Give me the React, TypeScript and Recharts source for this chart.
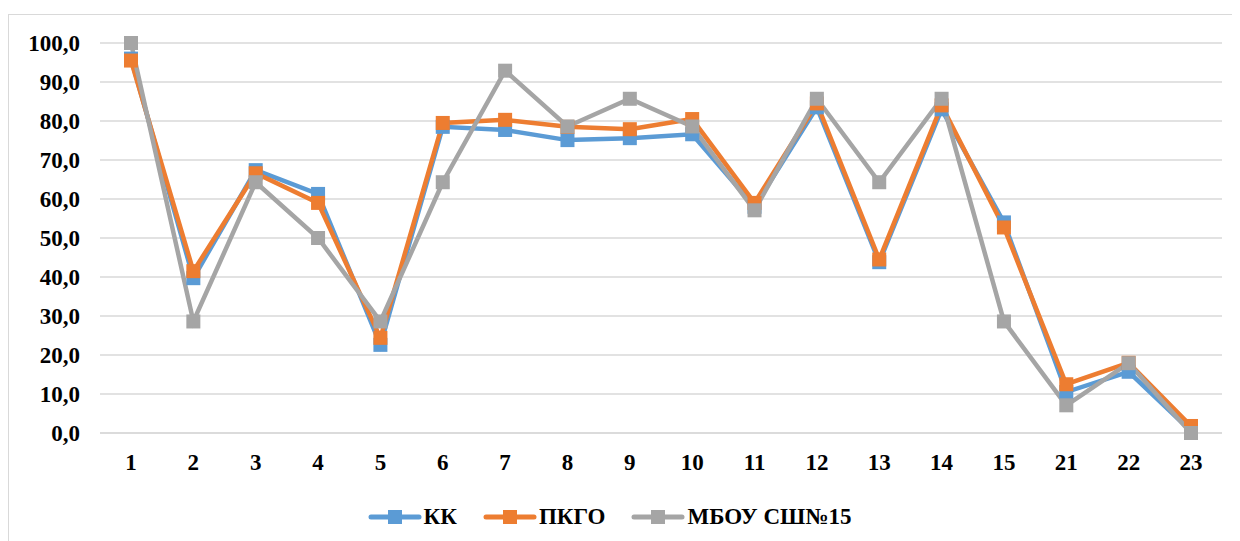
import React from "react";
import { LineChart, Line, XAxis, YAxis, CartesianGrid, Legend } from "recharts";

const categories = ["1", "2", "3", "4", "5", "6", "7", "8", "9", "10", "11", "12", "13", "14", "15", "21", "22", "23"];
const kk = [96.0, 39.7, 67.4, 61.3, 22.6, 78.5, 77.7, 75.1, 75.6, 76.6, 58.0, 83.5, 43.8, 83.0, 54.0, 10.5, 15.7, 0.5];
const pkgo = [95.5, 41.5, 66.6, 59.0, 24.4, 79.5, 80.3, 78.5, 77.9, 80.5, 59.0, 84.5, 44.5, 84.0, 52.7, 12.5, 18.0, 1.8];
const mbou = [100.0, 28.6, 64.3, 50.0, 28.6, 64.3, 92.9, 78.6, 85.7, 78.6, 57.1, 85.7, 64.3, 85.7, 28.6, 7.1, 17.9, 0.0];
const yTicks = [0, 10, 20, 30, 40, 50, 60, 70, 80, 90, 100];

const SERIES = [
  { key: "kk", name: "КК", color: "#5B9BD5" },
  { key: "pkgo", name: "ПКГО", color: "#ED7D31" },
  { key: "mbou", name: "МБОУ СШ№15", color: "#A5A5A5" },
];

const data = categories.map((c, i) => ({ cat: c, kk: kk[i], pkgo: pkgo[i], mbou: mbou[i] }));

const FONT = "'Liberation Serif', 'Times New Roman', serif";
const GRID = "#d9d9d9";

function squareDot(color: string) {
  return (props: any) => {
    const { cx, cy, index } = props;
    if (cx == null || cy == null) return <g key={index} />;
    return <rect key={index} x={cx - 7} y={cy - 7} width={14} height={14} fill={color} />;
  };
}

// custom tick so the font is applied for sure
function AxisTick(props: any) {
  const { x, y, payload, textAnchor, fmt } = props;
  const label = fmt ? fmt(payload.value) : payload.value;
  const isY = textAnchor === "end";
  return (
    <text
      x={x}
      y={y}
      dy={isY ? 8 : 17}
      textAnchor={textAnchor}
      fill="#000"
      style={{ fontFamily: FONT, fontWeight: "bold", fontSize: 23 }}
    >
      {label}
    </text>
  );
}

const fmtY = (v: number) => v.toFixed(1).replace(".", ",");

function LegendContent() {
  return (
    <div
      style={{
        height: 48,
        display: "flex",
        justifyContent: "center",
        alignItems: "center",
        gap: 26,
        paddingRight: 12,
        fontFamily: FONT,
        fontWeight: "bold",
        fontSize: 23,
        color: "#000",
      }}
    >
      {SERIES.map((s) => (
        <div key={s.key} style={{ display: "flex", alignItems: "center", gap: 2 }}>
          <svg width={54} height={14}>
            <line x1={3} y1={7} x2={51} y2={7} stroke={s.color} strokeWidth={5} strokeLinecap="round" />
            <rect x={20} y={0} width={14} height={14} fill={s.color} />
          </svg>
          <span>{s.name}</span>
        </div>
      ))}
    </div>
  );
}

export default function App() {
  return (
    <div style={{ marginTop: 6, width: 1226, height: 530, border: `1px solid ${GRID}`, background: "#fff" }}>
      <LineChart width={1226} height={526} data={data} margin={{ top: 28, right: 13, bottom: 0, left: 0 }}>
        <CartesianGrid vertical={false} stroke={GRID} strokeWidth={1.5} />
        <XAxis
          dataKey="cat"
          padding={{ left: 31, right: 31 }}
          axisLine={{ stroke: GRID, strokeWidth: 1.5 }}
          tickLine={false}
          tickSize={0}
          tickMargin={20}
          height={60}
          interval={0}
          tick={<AxisTick />}
        />
        <YAxis
          domain={[0, 100]}
          ticks={yTicks}
          width={91}
          axisLine={false}
          tickLine={false}
          tickSize={0}
          tickMargin={20}
          tick={<AxisTick fmt={fmtY} />}
        />
        {SERIES.map((s) => (
          <Line
            key={s.key}
            type="linear"
            dataKey={s.key}
            name={s.name}
            stroke={s.color}
            strokeWidth={4.5}
            dot={squareDot(s.color)}
            activeDot={false}
            isAnimationActive={false}
          />
        ))}
        <Legend verticalAlign="bottom" content={() => <LegendContent />} />
      </LineChart>
    </div>
  );
}
